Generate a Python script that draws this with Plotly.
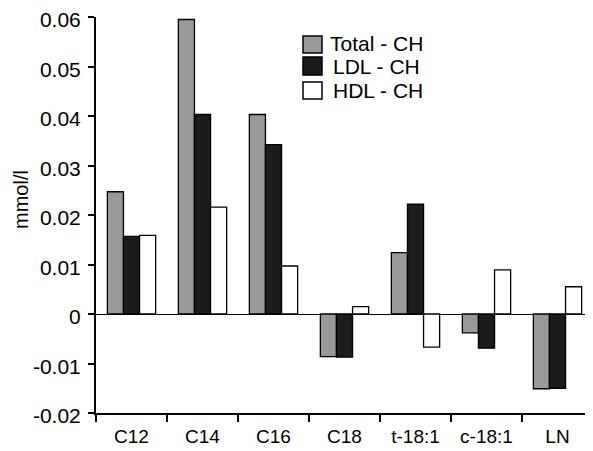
import plotly.graph_objects as go

categories = ["C12", "C14", "C16", "C18", "t-18:1", "c-18:1", "LN"]
total_ch = [0.0247, 0.0595, 0.0403, -0.0086, 0.0124, -0.0038, -0.0151]
ldl_ch = [0.0157, 0.0403, 0.0342, -0.0087, 0.0222, -0.0069, -0.0150]
hdl_ch = [0.0159, 0.0216, 0.0097, 0.0015, -0.0067, 0.0089, 0.0055]
series_names = ["Total - CH", "LDL - CH", "HDL - CH"]
series_colors = ["#999999", "#1c1c1c", "#ffffff"]
y_ticks = [-0.02, -0.01, 0, 0.01, 0.02, 0.03, 0.04, 0.05, 0.06]
y_tick_labels = ["-0.02", "-0.01", "0", "0.01", "0.02", "0.03", "0.04", "0.05", "0.06"]
y_title = "mmol/l"

FONT = "Arial, Liberation Sans, sans-serif"
line = dict(color="black", width=1.3)

# plot area in window pixels
PX0, PX1, PY0, PY1 = 96, 593, 17, 413
def px(x):
    return (x - PX0) / (PX1 - PX0)
def py(y):
    return (PY1 - y) / (PY1 - PY0)

fig = go.Figure()
for name, vals, col in zip(series_names, [total_ch, ldl_ch, hdl_ch], series_colors):
    fig.add_trace(go.Bar(name=name, x=categories, y=vals,
                         marker=dict(color=col, line=line), showlegend=False))

# manual legend (large square keys as in the reference)
shapes = []
annotations = []
rows = [(36, 53, 43.5, 328), (57, 75, 66.5, 331), (82, 99, 90.5, 331)]
for (t, b, c, tx), name, col in zip(rows, series_names, series_colors):
    shapes.append(dict(type="rect", xref="paper", yref="paper",
                       x0=px(303), x1=px(322), y0=py(b), y1=py(t),
                       fillcolor=col, line=dict(color="black", width=1.5)))
    annotations.append(dict(text=name, xref="paper", yref="paper",
                            x=px(tx), y=py(c), xanchor="left", yanchor="middle",
                            showarrow=False, font=dict(size=21)))
annotations.append(dict(text=y_title, xref="paper", yref="paper",
                        x=px(21), y=py(200), textangle=-90,
                        xanchor="center", yanchor="middle",
                        showarrow=False, font=dict(size=20)))

fig.update_layout(
    width=593, height=451,
    margin=dict(l=88, r=8, t=9, b=46),
    paper_bgcolor="white", plot_bgcolor="white",
    barmode="group", bargap=0.32, bargroupgap=0,
    font=dict(family=FONT, size=19, color="black"),
    showlegend=False,
    shapes=shapes, annotations=annotations,
)
fig.update_xaxes(
    type="category", showline=True, linecolor="black", linewidth=2,
    ticks="outside", tickson="boundaries", ticklen=7, tickwidth=2, tickcolor="black",
    tickfont=dict(size=19), showgrid=False, zeroline=False, mirror=False,
    ticklabelstandoff=5, automargin=False,
)
fig.update_yaxes(
    range=[-0.02, 0.06], tickvals=y_ticks, ticktext=y_tick_labels,
    showline=True, linecolor="black", linewidth=2,
    ticks="outside", ticklen=6, tickwidth=2, tickcolor="black",
    tickfont=dict(size=21), showgrid=False, ticklabeloverflow="allow",
    ticklabelshift=3, ticklabelstandoff=3,
    zeroline=True, zerolinecolor="black", zerolinewidth=1,
    automargin=False,
)

fig.write_html("out.html")
